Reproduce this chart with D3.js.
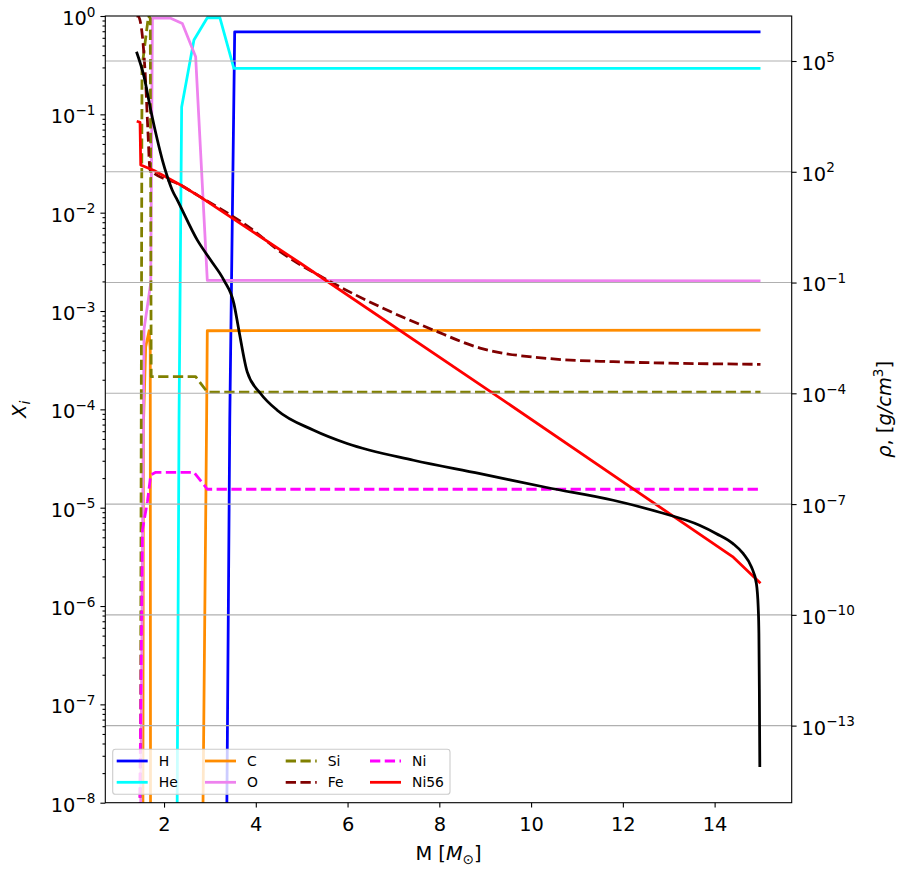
<!DOCTYPE html>
<html>
<head>
<meta charset="utf-8">
<script src="https://cdn.jsdelivr.net/npm/d3@7"></script>
<style>
  body { margin: 0; background: #fff; }
  text { font-family: "DejaVu Sans", sans-serif; fill: #000; }
</style>
</head>
<body>
<div id="chart"></div>
<script>
// mass coordinate range of the model [Msun]
const massRange = [1.40, 15.0];

// mass fractions, [M, X]
const H = [[1.40, 1e-12], [3.305, 1e-12], [3.433, 8e-5], [3.54, 0.69], [15.0, 0.69]];
const He = [[1.40, 1e-12], [2.245, 1e-12], [2.327, 8e-5], [2.384, 0.119], [2.652, 0.57], [2.943, 0.96],
  [3.217, 0.965], [3.522, 0.294], [15.0, 0.294]];
const C = [[1.40, 1e-12], [1.53, 1e-12], [1.55, 6.7e-5], [1.60, 4.3e-4], [1.675, 6.3e-4], [1.70, 4e-4],
  [1.71, 1e-12], [2.77, 1e-12], [2.928, 7.9e-5], [2.943, 6.3e-4], [15.0, 6.4e-4]];
const O = [[1.40, 1e-12], [1.433, 1e-12], [1.564, 6.5e-4], [1.71, 1.93e-3], [1.747, 0.95], [2.145, 0.95],
  [2.399, 0.84], [2.689, 0.386], [2.943, 2.05e-3], [15.0, 2.02e-3]];
const Si = [[1.44, 1e-12], [1.49, 1e-7], [1.52, 0.3], [1.66, 1.0], [1.70, 0.95], [1.72, 2.15e-4],
  [2.689, 2.15e-4], [2.943, 1.5e-4], [15.0, 1.5e-4]];
const Fe = [[1.40, 1.0], [1.434, 1.0], [1.529, 0.62], [1.601, 0.207], [1.651, 0.064], [1.695, 0.0272],
  [2.362, 0.0191], [2.797, 0.0144], [3.88, 6.98e-3], [4.538, 4.0e-3], [5.625, 1.99e-3], [6.712, 1.1e-3],
  [7.872, 6.4e-4], [8.887, 4.2e-4], [10.34, 3.3e-4], [11.79, 3.05e-4], [13.24, 2.94e-4], [15.0, 2.87e-4]];
const Ni = [[1.39, 1e-12], [1.529, 5.9e-6], [1.638, 1.15e-5], [1.71, 2.15e-5], [1.82, 2.29e-5],
  [2.652, 2.29e-5], [2.943, 1.54e-5], [15.0, 1.54e-5]];
const Ni56 = [[1.405, 0.085], [1.477, 0.083], [1.492, 0.0305], [1.782, 0.0268], [2.362, 0.0191],
  [2.797, 0.0144], [4.973, 3.06e-3], [9.324, 1.3e-4], [14.39, 3.18e-6], [15.0, 1.7e-6]];

// density profile, [M, rho g/cm^3]
const density = [[1.40, 1.78e5], [1.564, 3.76e4], [1.71, 4710], [1.855, 724], [1.964, 208], [2.073, 73.3],
  [2.18, 31.6], [2.29, 17.1], [2.726, 1.41], [3.015, 0.406], [3.304, 0.116], [3.522, 0.0272],
  [3.631, 5.13e-3], [3.813, 3.8e-4], [4.103, 9.9e-5], [4.466, 3.49e-5], [5.262, 1.0e-5],
  [5.989, 4.37e-6], [7.437, 1.54e-6], [8.888, 6.71e-7], [10.34, 2.81e-7], [11.79, 1.27e-7], [12.8, 6.0e-8],
  [13.67, 2.67e-8], [14.04, 1.58e-8], [14.4, 8.5e-9], [14.62, 4.6e-9], [14.8, 2.0e-9], [14.91, 7.1e-10],
  [14.95, 1.6e-10], [14.965, 3.1e-11], [14.975, 1e-12], [14.985, 7.6e-15]];

const xTicks = [2, 4, 6, 8, 10, 12, 14];
const leftExps = [0, -1, -2, -3, -4, -5, -6, -7, -8];
const rightExps = [5, 2, -1, -4, -7, -10, -13];

// smooth: only the profiles that are smooth curves in the original
const species = [
  { name: 'H', data: H, color: '#0000ff', dash: null, smooth: false },
  { name: 'He', data: He, color: '#00ffff', dash: null, smooth: false },
  { name: 'C', data: C, color: '#ff8c00', dash: null, smooth: false },
  { name: 'O', data: O, color: '#ee82ee', dash: null, smooth: false },
  { name: 'Si', data: Si, color: '#808000', dash: '10.3,4.45', smooth: false },
  { name: 'Fe', data: Fe, color: '#800000', dash: '10.3,4.45', smooth: true },
  { name: 'Ni', data: Ni, color: '#ff00ff', dash: '10.3,4.45', smooth: false },
  { name: 'Ni56', data: Ni56, color: '#ff0000', dash: null, smooth: false },
];

const width = 901, height = 869;
const plot = { left: 105.3, right: 791.7, top: 16, bottom: 802.7 };
const lw = 2.78;

const svg = d3.select('#chart').append('svg')
  .attr('width', width).attr('height', height);

// matplotlib style 5% margins
const xPad = (massRange[1] - massRange[0]) * 0.05;
const x = d3.scaleLinear()
  .domain([massRange[0] - xPad, massRange[1] + xPad])
  .range([plot.left, plot.right]);

const y = d3.scaleLog().domain([1e-8, 1]).range([plot.bottom, plot.top]);

const rhoLog = d3.extent(density, d => Math.log10(d[1]));
const rPad = (rhoLog[1] - rhoLog[0]) * 0.05;
const yR = d3.scaleLog()
  .domain([Math.pow(10, rhoLog[0] - rPad), Math.pow(10, rhoLog[1] + rPad)])
  .range([plot.bottom, plot.top]);

svg.append('clipPath').attr('id', 'clip')
  .append('rect')
  .attr('x', plot.left).attr('y', plot.top)
  .attr('width', plot.right - plot.left).attr('height', plot.bottom - plot.top);

const lineX = d3.line().x(d => x(d[0])).y(d => y(d[1]));
const lineXs = d3.line().x(d => x(d[0])).y(d => y(d[1])).curve(d3.curveMonotoneX);
const lineR = d3.line().x(d => x(d[0])).y(d => yR(d[1])).curve(d3.curveMonotoneX);

const lines = svg.append('g').attr('clip-path', 'url(#clip)');
lines.selectAll('path.species')
  .data(species)
  .enter()
  .append('path')
  .attr('class', 'species')
  .attr('d', d => (d.smooth ? lineXs : lineX)(d.data))
  .attr('fill', 'none')
  .attr('stroke', d => d.color)
  .attr('stroke-width', lw)
  .attr('stroke-linejoin', 'round')
  .attr('stroke-dasharray', d => d.dash);

// grid of the density axis
lines.selectAll('line.grid')
  .data(rightExps)
  .enter()
  .append('line')
  .attr('x1', plot.left).attr('x2', plot.right)
  .attr('y1', k => yR(Math.pow(10, k))).attr('y2', k => yR(Math.pow(10, k)))
  .attr('stroke', '#b0b0b0')
  .attr('stroke-width', 1.1);

lines.append('path')
  .attr('d', lineR(density))
  .attr('fill', 'none')
  .attr('stroke', '#000')
  .attr('stroke-width', lw)
  .attr('stroke-linejoin', 'round');

function powLabel(sel, k) {
  sel.text(null);
  sel.append('tspan').text('10');
  sel.append('tspan')
    .attr('font-size', 13.6)
    .attr('dy', -8.3)
    .text(k < 0 ? '\u2212' + (-k) : String(k));
}

function styleAxis(g) {
  g.select('.domain').remove();
  g.selectAll('.tick line').attr('stroke', '#000').attr('stroke-width', 1.1);
}

// left axis
const minorVals = [];
for (let k = -8; k < 0; k++) for (let m = 2; m <= 9; m++) minorVals.push(m * Math.pow(10, k));

svg.append('g')
  .attr('transform', `translate(${plot.left},0)`)
  .call(d3.axisLeft(y).tickValues(minorVals).tickSize(2.8).tickFormat(() => ''))
  .call(styleAxis);

svg.append('g')
  .attr('transform', `translate(${plot.left},0)`)
  .call(d3.axisLeft(y).tickValues(leftExps.map(k => Math.pow(10, k))).tickSize(4.9).tickPadding(4.9))
  .call(styleAxis)
  .call(g => g.selectAll('.tick text')
    .attr('dy', null).attr('y', 8.4)
    .attr('font-size', 19.4)
    .each(function (d) { powLabel(d3.select(this), Math.round(Math.log10(d))); }));

// right axis
svg.append('g')
  .attr('transform', `translate(${plot.right},0)`)
  .call(d3.axisRight(yR).tickValues(rightExps.map(k => Math.pow(10, k))).tickSize(4.9).tickPadding(4.9))
  .call(styleAxis)
  .call(g => g.selectAll('.tick text')
    .attr('dy', null).attr('y', 8.4)
    .attr('font-size', 19.4)
    .each(function (d) { powLabel(d3.select(this), Math.round(Math.log10(d))); }));

// bottom axis
svg.append('g')
  .attr('transform', `translate(0,${plot.bottom})`)
  .call(d3.axisBottom(x).tickValues(xTicks).tickSize(4.9).tickFormat(d3.format('d')))
  .call(styleAxis)
  .call(g => g.selectAll('.tick text').attr('dy', null).attr('y', 28.3).attr('font-size', 19.4));

// frame
svg.append('rect')
  .attr('x', plot.left).attr('y', plot.top)
  .attr('width', plot.right - plot.left).attr('height', plot.bottom - plot.top)
  .attr('fill', 'none').attr('stroke', '#000').attr('stroke-width', 1.1);

// axis labels
const xl = svg.append('text')
  .attr('x', (plot.left + plot.right) / 2).attr('y', 860)
  .attr('text-anchor', 'middle').attr('font-size', 19.4);
xl.append('tspan').text('M [');
xl.append('tspan').attr('font-style', 'italic').text('M');
xl.append('tspan').attr('font-size', 13.6).attr('dy', 3.5).text('\u2299');
xl.append('tspan').attr('dy', -3.5).text(']');

const yl = svg.append('text')
  .attr('transform', `translate(26,${(plot.top + plot.bottom) / 2}) rotate(-90)`)
  .attr('text-anchor', 'middle').attr('font-size', 19.4);
yl.append('tspan').attr('font-style', 'italic').text('X');
yl.append('tspan').attr('font-style', 'italic').attr('font-size', 13.6).attr('dy', 4).text('i');

const yr = svg.append('text')
  .attr('transform', `translate(891,${(plot.top + plot.bottom) / 2}) rotate(-90)`)
  .attr('text-anchor', 'middle').attr('font-size', 19.4);
yr.append('tspan').attr('font-style', 'italic').text('\u03c1');
yr.append('tspan').text(', [');
yr.append('tspan').attr('font-style', 'italic').text('g/cm');
yr.append('tspan').attr('font-size', 13.6).attr('dy', -8.3).text('3');
yr.append('tspan').attr('dy', 8.3).text(']');

// legend, 4 columns filled column-wise
const legend = svg.append('g');
legend.append('rect')
  .attr('x', 112.7).attr('y', 749.3)
  .attr('width', 337.3).attr('height', 45)
  .attr('rx', 2.8)
  .attr('fill', '#fff').attr('fill-opacity', 0.8)
  .attr('stroke', '#cccccc').attr('stroke-width', 1.1);

const colX = [116.7, 205, 285.7, 370];
const rowY = [761, 782.3];
const item = legend.selectAll('g.item')
  .data(species)
  .enter()
  .append('g')
  .attr('transform', (d, i) => `translate(${colX[Math.floor(i / 2)]},${rowY[i % 2]})`);
item.append('line')
  .attr('x1', 0).attr('x2', 31)
  .attr('stroke', d => d.color)
  .attr('stroke-width', lw)
  .attr('stroke-dasharray', d => d.dash);
item.append('text')
  .attr('x', 42).attr('y', 5)
  .attr('font-size', 13.9)
  .text(d => d.name);
</script>
</body>
</html>
